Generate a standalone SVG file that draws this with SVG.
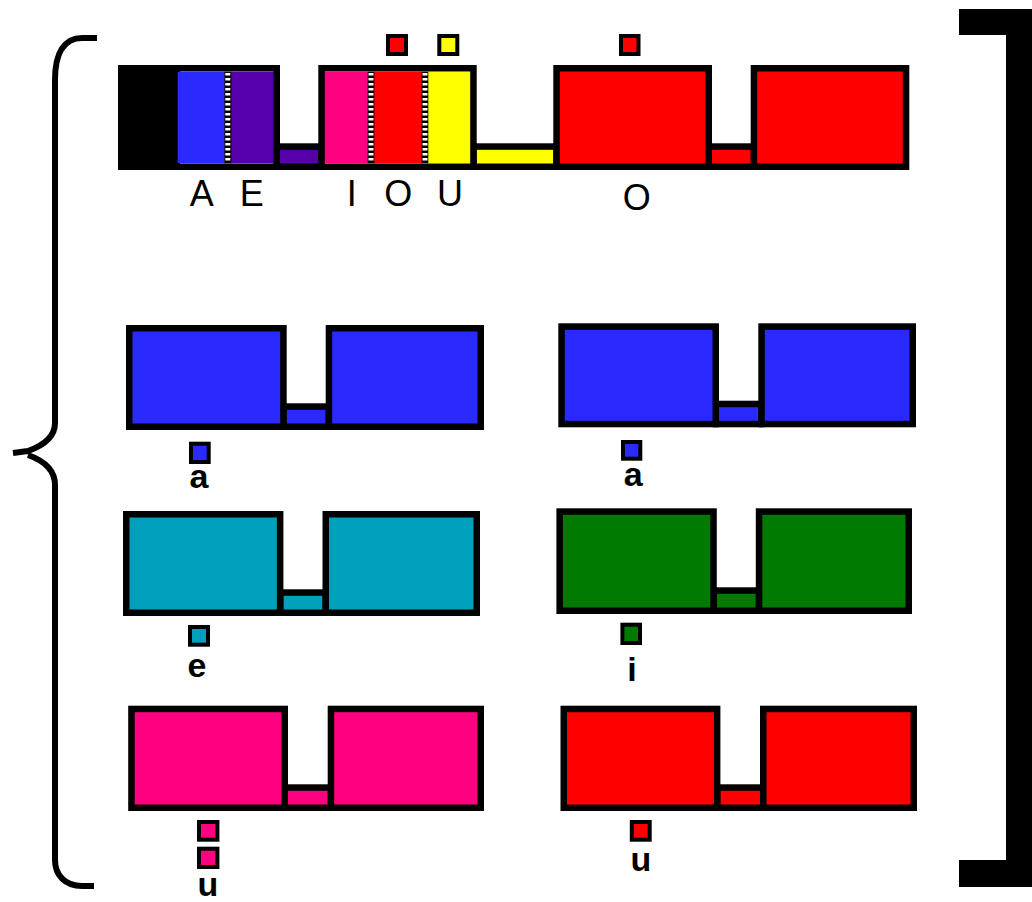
<svg xmlns="http://www.w3.org/2000/svg" width="1032" height="902" viewBox="0 0 1032 902">
<style>
.o{stroke:#000;stroke-width:6.5}
.sq{stroke:#000;stroke-width:4}
.blue{fill:#2a2aff}.purple{fill:#5500aa}.pink{fill:#ff0080}.red{fill:#ff0000}.yellow{fill:#ffff00}.teal{fill:#009fbb}.green{fill:#007a00}
.t{font-family:"Liberation Sans",Arial,sans-serif;font-size:36px;fill:#000;text-anchor:middle}
.lc{font-weight:bold;font-size:34px}
.dash{stroke:#fff;stroke-width:5;stroke-dasharray:2.5 2.5}
</style>
<rect width="1032" height="902" fill="#fff"/>
<g id="brace">
<path d="M97 38 L82 38 C65 38 55 52 55 80 L55 423 C55 438 42 446 28 451 L13 453 M28 455 C42 460 55 468 55 485 L55 860 C55 875 65 886 82 886 L94 886" fill="none" stroke="#000" stroke-width="6" stroke-linejoin="round"/>
</g>
<g id="bracket">
<path d="M959 9 H1032 V887 H959 V860 H1006 V35 H959 Z" fill="#000"/>
</g>
<g id="top-bar">
<rect class="o purple" x="276.75" y="146.55" width="44.8" height="20.2"/>
<rect class="o yellow" x="473.45" y="146.55" width="83.1" height="20.2"/>
<rect class="o red" x="708.75" y="146.55" width="45.2" height="20.2"/>
<rect x="118" y="65" width="62" height="105" fill="#000"/>
<rect class="blue" x="177.7" y="71.7" width="47" height="91.6"/>
<rect class="purple" x="231" y="71.7" width="43" height="91.6"/>
<rect x="224.3" y="71.7" width="7" height="91.6" fill="#000"/>
<line class="dash" x1="227.8" y1="73" x2="227.8" y2="163.3"/>
<rect class="o" fill="none" x="121.25" y="68.25" width="155.5" height="98.5"/>
<rect class="pink" x="324" y="71.7" width="44" height="91.6"/>
<rect class="red" x="374" y="71.7" width="48" height="91.6"/>
<rect class="yellow" x="428" y="71.7" width="44" height="91.6"/>
<rect x="367.7" y="71.7" width="6.6" height="91.6" fill="#000"/>
<rect x="421.7" y="71.7" width="6.6" height="91.6" fill="#000"/>
<line class="dash" x1="371" y1="73" x2="371" y2="163.3"/>
<line class="dash" x1="425" y1="73" x2="425" y2="163.3"/>
<rect class="o" fill="none" x="321.55" y="68.25" width="151.9" height="98.5"/>
<rect class="o red" x="556.55" y="68.25" width="152.2" height="98.5"/>
<rect class="o red" x="753.95" y="68.25" width="152.1" height="98.5"/>
</g>
<g id="top-marks">
<rect class="sq red" x="388" y="36" width="18" height="18"/>
<rect class="sq yellow" x="439.3" y="36" width="18" height="18"/>
<rect class="sq red" x="621" y="36" width="17.5" height="18"/>
</g>
<g id="top-labels">
<text class="t" x="201.7" y="205.7">A</text>
<text class="t" x="251.7" y="205.7">E</text>
<text class="t" x="351.7" y="205.7">I</text>
<text class="t" x="398.3" y="205.7">O</text>
<text class="t" x="450" y="205.7">U</text>
<text class="t" x="636.7" y="210">O</text>
</g>
<g id="row1-left">
<rect class="o blue" x="283.45" y="406.55" width="45.5" height="20.2"/>
<rect class="o blue" x="129.25" y="328.25" width="154.2" height="98.5"/>
<rect class="o blue" x="328.95" y="328.25" width="151.8" height="98.5"/>
<rect class="sq blue" x="191" y="443.7" width="17.7" height="18.3"/>
<text class="t lc" x="199" y="488">a</text>
</g>
<g id="row1-right">
<rect class="o blue" x="715.75" y="403.95" width="45.8" height="20.1"/>
<rect class="o blue" x="561.55" y="326.55" width="154.2" height="97.5"/>
<rect class="o blue" x="761.55" y="326.55" width="151.2" height="97.5"/>
<rect class="sq blue" x="623" y="442" width="17.3" height="16.7"/>
<text class="t lc" x="633.3" y="486">a</text>
</g>
<g id="row2-left">
<rect class="o teal" x="280.15" y="592.55" width="45.6" height="20.2"/>
<rect class="o teal" x="126.25" y="514.25" width="153.9" height="98.5"/>
<rect class="o teal" x="325.75" y="514.25" width="151" height="98.5"/>
<rect class="sq teal" x="190" y="627" width="18" height="17.7"/>
<text class="t lc" x="197" y="677">e</text>
</g>
<g id="row2-right">
<rect class="o green" x="713.55" y="590.55" width="45.5" height="20.2"/>
<rect class="o green" x="559.65" y="511.55" width="153.9" height="99.2"/>
<rect class="o green" x="759.05" y="511.55" width="149.7" height="99.2"/>
<rect class="sq green" x="622.4" y="624.7" width="17.6" height="18.3"/>
<text class="t lc" x="632" y="681">i</text>
</g>
<g id="row3-left">
<rect class="o pink" x="284.75" y="787.55" width="46.2" height="20.2"/>
<rect class="o pink" x="131.45" y="708.95" width="153.3" height="98.8"/>
<rect class="o pink" x="330.95" y="708.95" width="149.8" height="98.8"/>
<rect class="sq pink" x="199" y="822" width="18.4" height="17.7"/>
<rect class="sq pink" x="199" y="848.7" width="18.4" height="18.3"/>
<text class="t lc" x="208" y="896">u</text>
</g>
<g id="row3-right">
<rect class="o red" x="717.15" y="787.55" width="46.1" height="20.2"/>
<rect class="o red" x="563.75" y="708.95" width="153.4" height="98.8"/>
<rect class="o red" x="763.25" y="708.95" width="150.5" height="98.8"/>
<rect class="sq red" x="631.8" y="822" width="17.9" height="17.7"/>
<text class="t lc" x="641" y="871">u</text>
</g>
</svg>
